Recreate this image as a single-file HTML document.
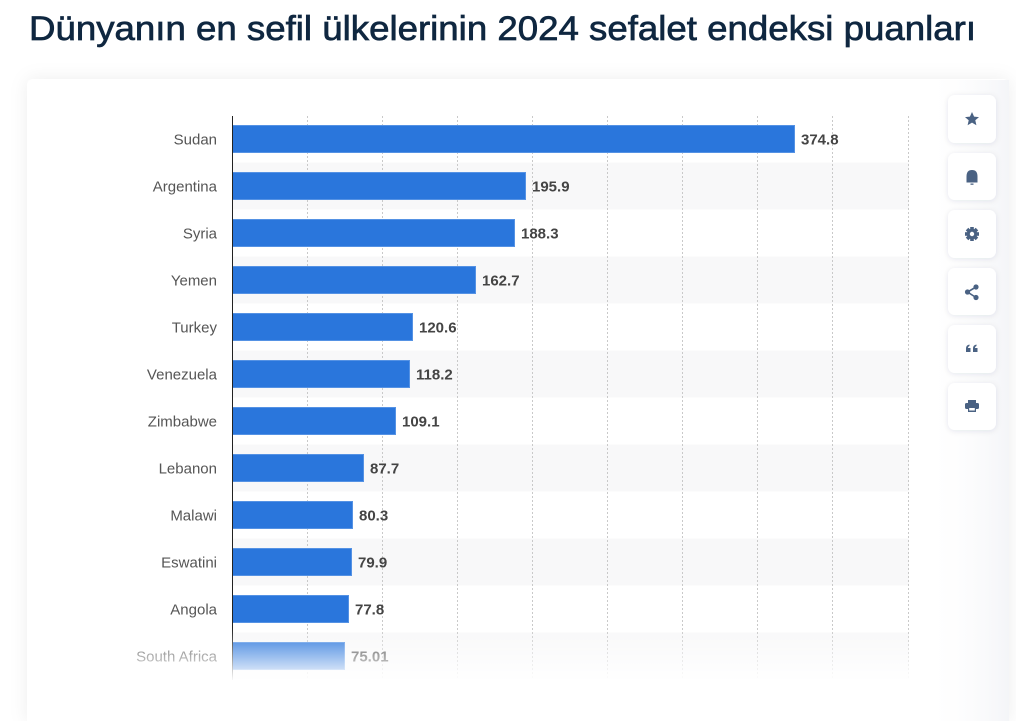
<!DOCTYPE html>
<html><head><meta charset="utf-8"><style>
html,body{margin:0;padding:0;background:#fff;width:1016px;height:721px;overflow:hidden;}
svg{display:block;}
</style></head><body>
<svg width="1016" height="721" viewBox="0 0 1016 721" xmlns="http://www.w3.org/2000/svg" font-family="'Liberation Sans', sans-serif">
<defs>
<filter id="cs" x="-10%" y="-10%" width="120%" height="130%"><feDropShadow dx="0" dy="0" stdDeviation="9" flood-color="#1f2d4a" flood-opacity="0.07"/></filter>
<filter id="bs" x="-40%" y="-40%" width="180%" height="180%"><feDropShadow dx="0" dy="1" stdDeviation="3" flood-color="#1f2d4a" flood-opacity="0.10"/></filter>
<linearGradient id="fade" x1="0" y1="0" x2="0" y2="1"><stop offset="0" stop-color="#fff" stop-opacity="0"/><stop offset="1" stop-color="#fff" stop-opacity="1"/></linearGradient>
<linearGradient id="side" x1="0" y1="0" x2="1" y2="0"><stop offset="0" stop-color="#fff" stop-opacity="0"/><stop offset="1" stop-color="#f4f5f8" stop-opacity="1"/></linearGradient>
</defs>
<text x="29" y="40" font-size="34" fill="#0f2740" stroke="#0f2740" stroke-width="0.7" textLength="947" lengthAdjust="spacingAndGlyphs">Dünyanın en sefil ülkelerinin 2024 sefalet endeksi puanları</text>
<path d="M27,721 L27,86 Q27,79 34,79 L1002,79 Q1009,79 1009,86 L1009,721 Z" fill="#fff" filter="url(#cs)"/>
<rect x="925" y="80" width="84" height="641" fill="url(#side)"/>
<!-- bands -->
<g fill="#f8f8f9">
<rect x="232" y="162.5" width="677" height="47"/>
<rect x="232" y="256.5" width="677" height="47"/>
<rect x="232" y="350.5" width="677" height="47"/>
<rect x="232" y="444.5" width="677" height="47"/>
<rect x="232" y="538.5" width="677" height="47"/>
<rect x="232" y="632.5" width="677" height="47"/>
</g>
<!-- grid -->
<g stroke="#c9c9c9" stroke-width="1" stroke-dasharray="2,2">
<line x1="307.5" y1="116" x2="307.5" y2="679"/>
<line x1="382.5" y1="116" x2="382.5" y2="679"/>
<line x1="457.5" y1="116" x2="457.5" y2="679"/>
<line x1="532.5" y1="116" x2="532.5" y2="679"/>
<line x1="607.5" y1="116" x2="607.5" y2="679"/>
<line x1="682.5" y1="116" x2="682.5" y2="679"/>
<line x1="757.5" y1="116" x2="757.5" y2="679"/>
<line x1="832.5" y1="116" x2="832.5" y2="679"/>
<line x1="908.5" y1="116" x2="908.5" y2="679"/>
</g>
<!-- bars -->
<g fill="#2a76dc" stroke="#5592e4" stroke-width="1">
<rect x="232.5" y="125.5" width="562" height="27"/>
<rect x="232.5" y="172.5" width="293" height="27"/>
<rect x="232.5" y="219.5" width="282" height="27"/>
<rect x="232.5" y="266.5" width="243" height="27"/>
<rect x="232.5" y="313.5" width="180" height="27"/>
<rect x="232.5" y="360.5" width="177" height="27"/>
<rect x="232.5" y="407.5" width="163" height="27"/>
<rect x="232.5" y="454.5" width="131" height="27"/>
<rect x="232.5" y="501.5" width="120" height="27"/>
<rect x="232.5" y="548.5" width="119" height="27"/>
<rect x="232.5" y="595.5" width="116" height="27"/>
<rect x="232.5" y="642.5" width="112" height="27"/>
</g>
<line x1="232.5" y1="116" x2="232.5" y2="680" stroke="#222" stroke-width="1"/>
<!-- category labels -->
<g font-size="15" fill="#555" text-anchor="end">
<text x="217" y="144.5">Sudan</text>
<text x="217" y="191.5">Argentina</text>
<text x="217" y="238.5">Syria</text>
<text x="217" y="285.5">Yemen</text>
<text x="217" y="332.5">Turkey</text>
<text x="217" y="379.5">Venezuela</text>
<text x="217" y="426.5">Zimbabwe</text>
<text x="217" y="473.5">Lebanon</text>
<text x="217" y="520.5">Malawi</text>
<text x="217" y="567.5">Eswatini</text>
<text x="217" y="614.5">Angola</text>
<text x="217" y="661.5">South Africa</text>
</g>
<!-- values -->
<g font-size="15" font-weight="bold" fill="#444">
<text x="801" y="144.5">374.8</text>
<text x="532" y="191.5">195.9</text>
<text x="521" y="238.5">188.3</text>
<text x="482" y="285.5">162.7</text>
<text x="419" y="332.5">120.6</text>
<text x="416" y="379.5">118.2</text>
<text x="402" y="426.5">109.1</text>
<text x="370" y="473.5">87.7</text>
<text x="359" y="520.5">80.3</text>
<text x="358" y="567.5">79.9</text>
<text x="355" y="614.5">77.8</text>
<text x="351" y="661.5">75.01</text>
</g>
<rect x="100" y="628" width="820" height="54" fill="url(#fade)"/>
<!-- buttons -->
<g filter="url(#bs)" fill="#fff">
<rect x="948" y="95" width="48" height="48" rx="7"/>
<rect x="948" y="153" width="48" height="47" rx="7"/>
<rect x="948" y="210" width="48" height="48" rx="7"/>
<rect x="948" y="268" width="48" height="47" rx="7"/>
<rect x="948" y="325" width="48" height="48" rx="7"/>
<rect x="948" y="383" width="48" height="47" rx="7"/>
</g>
<g fill="#4a6283">
<polygon points="972,112 974.1,116.6 979,117.1 975.3,120.3 976.4,125.2 972,122.6 967.6,125.2 968.7,120.3 965,117.1 969.9,116.6"/>
<path d="M966.5,182.5 L966.5,176.5 Q966.5,170 972,170 Q977.5,170 977.5,176.5 L977.5,182.5 Z"/>
<rect x="970.5" y="183.5" width="3" height="1.3"/>
<g transform="translate(972,234)">
<circle r="5.2"/>
<rect x="-1.8" y="-7" width="3.6" height="14"/>
<rect x="-7" y="-1.8" width="14" height="3.6"/>
<rect x="-1.8" y="-7" width="3.6" height="14" transform="rotate(45)"/>
<rect x="-1.8" y="-7" width="3.6" height="14" transform="rotate(-45)"/>
<circle r="2.2" fill="#fff"/>
</g>
<circle cx="976" cy="287" r="2.6"/>
<circle cx="967.5" cy="292" r="2.6"/>
<circle cx="976" cy="297.5" r="2.6"/>
<path d="M976,287 L967.5,292 L976,297.5" stroke="#4a6283" stroke-width="1.6" fill="none"/>
<path d="M966,352 L966,348.5 Q966,345 969.5,344.5 L969.5,346 Q968,346.5 968,348 L970.5,348 L970.5,352 Z"/>
<path d="M973,352 L973,348.5 Q973,345 976.5,344.5 L976.5,346 Q975,346.5 975,348 L977.5,348 L977.5,352 Z"/>
<rect x="968" y="400" width="8" height="3.5"/>
<rect x="965" y="403" width="14" height="6" rx="1.5"/>
<rect x="968" y="408" width="8" height="4"/>
<rect x="969.2" y="408" width="5.6" height="2.5" fill="#fff"/>
</g>
</svg>
</body></html>
